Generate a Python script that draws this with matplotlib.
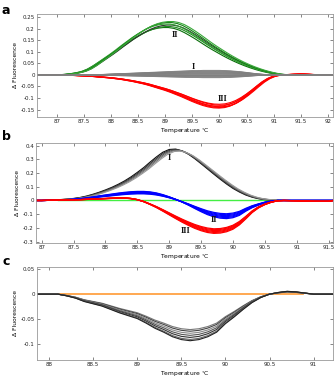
import numpy as np
import matplotlib
matplotlib.use('Agg')
import matplotlib.pyplot as plt
from matplotlib.ticker import FormatStrFormatter

# ---- panel a : sampled every 0.1 C ----
a_green_t0 = 87.0
a_green = [0.000, 0.001, 0.003, 0.006, 0.010, 0.016, 0.026, 0.040, 0.056, 0.072,
           0.088, 0.105, 0.123, 0.140, 0.157, 0.172, 0.186, 0.198, 0.207, 0.213,
           0.216, 0.216, 0.212, 0.204, 0.192, 0.178, 0.163, 0.147, 0.131, 0.116,
           0.102, 0.088, 0.075, 0.063, 0.052, 0.042, 0.033, 0.025, 0.018, 0.012,
           0.007, 0.003, 0.001, 0.000]
a_green_scale = [0.95, 0.97, 1.0, 1.02, 1.05, 1.07]
a_green_shift = [-0.04, 0.0, 0.03, -0.02, 0.02, 0.05]
a_green_cols = ['#0a6e0a', '#1e8c1e', '#2b3b2b', '#2f9f2f', '#148214', '#3aa83a']

a_red_t0 = 87.0
a_red = [0.000, -0.001, -0.001, -0.002, -0.003, -0.004, -0.005, -0.007, -0.009, -0.011,
         -0.013, -0.016, -0.019, -0.023, -0.027, -0.032, -0.037, -0.043, -0.050, -0.057,
         -0.064, -0.072, -0.081, -0.090, -0.100, -0.110, -0.119, -0.127, -0.133, -0.137,
         -0.138, -0.136, -0.130, -0.120, -0.106, -0.089, -0.070, -0.050, -0.031, -0.016,
         -0.006, -0.001, 0.001, 0.002, 0.003, 0.004, 0.003, 0.002, 0.001, 0.000]
a_red_scale = [0.92, 0.95, 0.98, 1.0, 1.02, 1.04]
a_red_shift = [0.0, 0.02, -0.02, 0.03, 0.0, -0.01]

a_grey_t0 = 87.4
a_grey = [0.0, 0.0005, 0.001, 0.0015, 0.002, 0.003, 0.004, 0.005, 0.006, 0.007,
          0.008, 0.009, 0.010, 0.011, 0.012, 0.013, 0.014, 0.015, 0.016, 0.017,
          0.018, 0.019, 0.019, 0.020, 0.020, 0.020, 0.020, 0.019, 0.018, 0.016,
          0.014, 0.011, 0.008, 0.005, 0.003, 0.001, 0.0005, 0.0]
a_grey_scale = [1.0, 0.9, 0.8, 0.7, 0.6, 0.5, 0.4, 0.3, 0.2, 0.1, 0.0,
                -0.1, -0.2, -0.3, -0.4, -0.5, -0.6]

# ---- panel b ----
b_black_t0 = 87.0
b_black = [0.000, 0.002, 0.004, 0.007, 0.010, 0.015, 0.022, 0.032, 0.045, 0.060,
           0.077, 0.096, 0.118, 0.143, 0.172, 0.205, 0.240, 0.280, 0.318, 0.352,
           0.372, 0.375, 0.362, 0.338, 0.305, 0.268, 0.230, 0.192, 0.155, 0.120,
           0.088, 0.062, 0.040, 0.024, 0.013, 0.007, 0.003, 0.001, 0.000]
b_black_scale = [1.0, 0.99, 0.98, 0.97, 0.96]
b_black_shift = [0.0, 0.02, 0.04, 0.06, 0.08]
b_black_cols = ['#111111', '#333333', '#555555', '#777777', '#999999']

b_blue_t0 = 87.0
b_blue = [0.000, 0.001, 0.002, 0.004, 0.006, 0.008, 0.012, 0.017, 0.023, 0.030,
          0.036, 0.042, 0.048, 0.053, 0.057, 0.059, 0.059, 0.056, 0.049, 0.038,
          0.024, 0.008, -0.010, -0.030, -0.052, -0.073, -0.092, -0.106, -0.115, -0.118,
          -0.112, -0.097, -0.070, -0.047, -0.030, -0.015, -0.006, 0.000]
b_blue_scale = [0.82, 0.88, 0.94, 1.0, 1.06, 1.12]

b_red_t0 = 87.0
b_red = [0.000, 0.001, 0.002, 0.003, 0.004, 0.005, 0.006, 0.008, 0.010, 0.012,
         0.014, 0.016, 0.018, 0.018, 0.014, 0.006, -0.008, -0.027, -0.048, -0.072,
         -0.097, -0.122, -0.146, -0.168, -0.188, -0.204, -0.216, -0.222, -0.220, -0.211,
         -0.194, -0.165, -0.125, -0.082, -0.050, -0.028, -0.012, -0.002, 0.000, -0.001,
         -0.002, -0.004, -0.005, -0.006, -0.006, -0.006]
b_red_scale = [0.93, 0.96, 0.99, 1.02, 1.05, 1.08]

# ---- panel c ----
c_grey_t0 = 88.1
c_grey = [0.000, -0.003, -0.007, -0.013, -0.017, -0.021, -0.027, -0.033, -0.038, -0.043,
          -0.051, -0.060, -0.067, -0.075, -0.080, -0.082, -0.080, -0.075, -0.067, -0.052,
          -0.040, -0.027, -0.015, -0.006, 0.000, 0.003, 0.005, 0.004, 0.002, 0.000]
c_grey_scale = [0.86, 0.90, 0.95, 1.0, 1.05, 1.10, 1.13]
c_grey_cols = ['#777777', '#444444', '#888888', '#555555', '#333333', '#666666', '#222222']


def series(t0, vals, lims, shift=0.0, scale=1.0):
    t = t0 + 0.1 * np.arange(len(vals)) + shift
    x = np.concatenate([[lims[0]], t, [lims[1]]])
    y = np.concatenate([[0.0], np.array(vals) * scale, [0.0]])
    return x, y


def style(ax, xlim, ylim, xticks, yticks, fmt_y):
    ax.set_xlim(xlim)
    ax.set_ylim(ylim)
    ax.set_xticks(xticks)
    ax.set_yticks(yticks)
    ax.xaxis.set_major_formatter(FormatStrFormatter('%g'))
    ax.yaxis.set_major_formatter(FormatStrFormatter('%g'))
    ax.tick_params(direction='in', length=2, width=0.5, labelsize=4, pad=1.5,
                   top=True, right=True, colors='#555555', labelcolor='#222222')
    for s in ax.spines.values():
        s.set_color('#999999')
        s.set_linewidth(0.6)
    ax.set_xlabel('Temperature $^{\\circ}$C', fontsize=4.3, labelpad=1.5)
    ax.set_ylabel('\u0394 Fluorescence', fontsize=4.3, labelpad=2)


fig = plt.figure(figsize=(3.35, 3.88), dpi=100)
roman = dict(fontsize=6, fontweight='bold', family='Liberation Serif',
             ha='center', va='center', color='#111111')

# panel a
axa = fig.add_axes([0.1096, 0.6985, 0.884, 0.2655])
la = (86.63, 92.09)
for sc, sh, c in zip(a_green_scale, a_green_shift, a_green_cols):
    axa.plot(*series(a_green_t0, a_green, la, sh, sc), color=c, lw=0.8)
for sc, sh in zip(a_red_scale, a_red_shift):
    axa.plot(*series(a_red_t0, a_red, la, sh, sc), color='#ff0000', lw=0.8)
for sc in a_grey_scale:
    axa.plot(*series(a_grey_t0, a_grey, la, 0.0, sc), color='#808080', lw=0.6)
style(axa, la, (-0.182, 0.264), np.arange(87, 92.01, 0.5),
      [-0.15, -0.1, -0.05, 0, 0.05, 0.1, 0.15, 0.2, 0.25], '%g')
axa.text(89.52, 0.033, 'I', **roman)
axa.text(89.18, 0.173, 'II', **roman)
axa.text(90.06, -0.104, 'III', **roman)

# panel b
axb = fig.add_axes([0.1075, 0.3737, 0.8866, 0.257])
lb = (86.91, 91.57)
axb.plot([87.25, 90.65], [0, 0], color='#44ee44', lw=1.0)
for sc, sh, c in zip(b_black_scale, b_black_shift, b_black_cols):
    axb.plot(*series(b_black_t0, b_black, lb, sh, sc), color=c, lw=0.8)
for sc in b_blue_scale:
    axb.plot(*series(b_blue_t0, b_blue, lb, 0.0, sc), color='#0000ff', lw=0.9)
for sc in b_red_scale:
    axb.plot(*series(b_red_t0, b_red, lb, 0.0, sc), color='#ff0000', lw=0.9)
style(axb, lb, (-0.31, 0.417), np.arange(87, 91.51, 0.5),
      [-0.3, -0.2, -0.1, 0, 0.1, 0.2, 0.3, 0.4], '%g')
axb.text(89.0, 0.308, 'I', **roman)
axb.text(89.7, -0.142, 'II', **roman)
axb.text(89.25, -0.223, 'III', **roman)

# panel c
axc = fig.add_axes([0.1096, 0.0722, 0.8845, 0.2404])
lc = (87.86, 91.22)
axc.plot([88.1, 90.88], [0, 0], color='#ff9933', lw=1.2)
for sc, c in zip(c_grey_scale, c_grey_cols):
    axc.plot(*series(c_grey_t0, c_grey, lc, 0.0, sc), color=c, lw=0.8)
style(axc, lc, (-0.131, 0.0546), np.arange(88, 91.01, 0.5),
      [-0.1, -0.05, 0, 0.05], '%g')

for lab, y in [('a', 0.972), ('b', 0.647), ('c', 0.327)]:
    fig.text(0.018, y, lab, fontsize=9, fontweight='bold', ha='center', va='center')

fig.savefig('out.png', dpi=100)
